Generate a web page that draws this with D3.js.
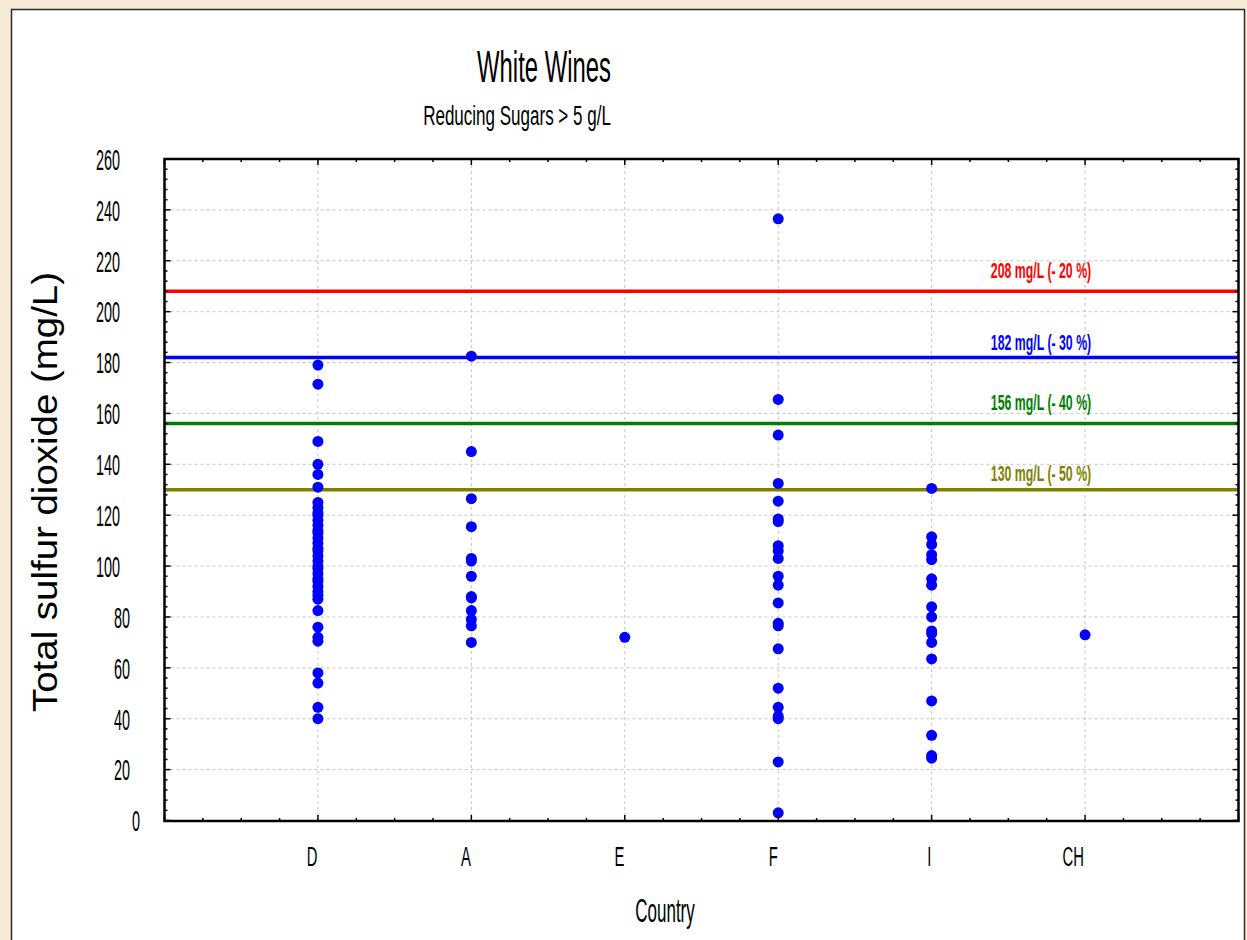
<!DOCTYPE html>
<html><head><meta charset="utf-8">
<script src="https://cdn.jsdelivr.net/npm/d3@7"></script>
<style>
html,body{margin:0;padding:0;background:#F8EBD6;}
svg{display:block;}
</style></head>
<body>
<svg id="chart" width="1247" height="940"></svg>
<script>
// ---------- data ----------
const categories = ["D", "A", "E", "F", "I", "CH"];
const valuesD = [179, 171.5, 149, 140, 136, 131, 125, 123, 121, 120, 118, 116, 114, 113, 111, 109, 107, 106, 104, 102, 100, 99, 97, 95, 94, 92, 90, 88.5, 87, 82.5, 76, 72, 70.5, 58, 54, 44.5, 40];
const valuesA = [182.5, 145, 126.5, 115.5, 103, 102, 96, 88, 87.5, 82.5, 79, 76.5, 70];
const valuesE = [72];
const valuesF = [236.5, 165.5, 151.5, 132.5, 125.5, 118.5, 117.5, 108, 106, 103, 96, 92.5, 85.5, 77.5, 76.5, 67.5, 52, 44.5, 41, 40, 23, 3];
const valuesI = [130.5, 111.5, 108.5, 104.5, 102.5, 95, 92.5, 84, 80, 74.5, 73.5, 70, 63.5, 47, 33.5, 25.5, 24.5];
const valuesCH = [73];
const seriesValues = [valuesD, valuesA, valuesE, valuesF, valuesI, valuesCH];
const yTicks = [0, 20, 40, 60, 80, 100, 120, 140, 160, 180, 200, 220, 240, 260];
const limitValues = [208, 182, 156, 130];
const limitLabels = ["208 mg/L (- 20 %)", "182 mg/L (- 30 %)", "156 mg/L (- 40 %)", "130 mg/L (- 50 %)"];
const limitColors = ["#FF0000", "#0000FF", "#008000", "#808000"];
const limitLabelOffsets = [-13, -7.5, -14, -8.5];
const titleText = "White Wines";
const subtitleText = "Reducing Sugars > 5 g/L";
const xTitle = "Country";
const yTitle = "Total sulfur dioxide (mg/L)";

// ---------- layout ----------
const svg = d3.select("#chart");
const L = 164.5, R = 1238.5, T = 159, B = 821;
const FONT = "'Liberation Sans', Arial, sans-serif";

const x = d3.scaleLinear().domain([0, 7]).range([L, R]);
const y = d3.scaleLinear().domain([0, 260]).range([820.5, T]);

// panel
svg.append("rect").attr("x", 0).attr("y", 0).attr("width", 1247).attr("height", 940).attr("fill", "#F8EBD6");
svg.append("rect").attr("x", 11.5).attr("y", 9.5).attr("width", 1233).attr("height", 950)
  .attr("fill", "#ffffff").attr("stroke", "#2a2a2a").attr("stroke-width", 1.5);

function condense(sel, factor) {
  sel.each(function () {
    const w = this.getComputedTextLength();
    this.setAttribute("textLength", w * factor);
    this.setAttribute("lengthAdjust", "spacingAndGlyphs");
  });
  return sel;
}

// grid
const grid = svg.append("g");
grid.selectAll("line.h").data(yTicks.filter(d => d > 0 && d < 260)).join("line")
  .attr("x1", L).attr("x2", R).attr("y1", d => y(d)).attr("y2", d => y(d))
  .attr("stroke", "#c4c4c4").attr("stroke-width", 1).attr("stroke-dasharray", "3,3");
grid.selectAll("line.v").data(categories).join("line")
  .attr("x1", (d, i) => x(i + 1)).attr("x2", (d, i) => x(i + 1)).attr("y1", T).attr("y2", B)
  .attr("stroke", "#c4c4c4").attr("stroke-width", 1).attr("stroke-dasharray", "3,3");

// limit lines
svg.append("g").selectAll("line").data(limitValues).join("line")
  .attr("x1", L).attr("x2", R).attr("y1", d => y(d)).attr("y2", d => y(d))
  .attr("stroke", (d, i) => limitColors[i]).attr("stroke-width", 3.5);

// points
const pts = [];
seriesValues.forEach((arr, i) => arr.forEach(v => pts.push({ c: i + 1, v })));
svg.append("g").selectAll("circle").data(pts).join("circle")
  .attr("cx", d => x(d.c)).attr("cy", d => y(d.v)).attr("r", 5.5).attr("fill", "#0000FF");

// limit labels
const lbl = svg.append("g").selectAll("text").data(limitLabels).join("text")
  .attr("x", 1041).attr("y", (d, i) => y(limitValues[i]) + limitLabelOffsets[i])
  .attr("text-anchor", "middle").attr("font-family", FONT).attr("font-weight", "bold")
  .attr("font-size", 22).attr("fill", (d, i) => limitColors[i]).text(d => d);
condense(lbl, 0.56);

// frame
svg.append("rect").attr("x", L).attr("y", T).attr("width", R - L).attr("height", B - T)
  .attr("fill", "none").attr("stroke", "#000").attr("stroke-width", 2.5);

// ticks (all four sides, inward)
const ticks = svg.append("g").attr("stroke", "#000").attr("stroke-width", 1.5);
const yMinor = d3.range(0, 261, 4);
yMinor.forEach(v => {
  const len = (v % 20 === 0) ? 6 : 3;
  ticks.append("line").attr("x1", L).attr("x2", L + len).attr("y1", y(v)).attr("y2", y(v));
  ticks.append("line").attr("x1", R).attr("x2", R - len).attr("y1", y(v)).attr("y2", y(v));
});
const xMinor = d3.range(0, 7.001, 0.25);
xMinor.forEach(v => {
  const len = (Math.abs(v - Math.round(v)) < 1e-6) ? 6 : 3;
  ticks.append("line").attr("x1", x(v)).attr("x2", x(v)).attr("y1", B).attr("y2", B - len);
  ticks.append("line").attr("x1", x(v)).attr("x2", x(v)).attr("y1", T).attr("y2", T + len);
});

// y tick labels
svg.append("g").selectAll("text").data(yTicks).join("text")
  .attr("x", d => 140 - (String(d).length - 1) * 10)
  .attr("y", d => y(d)).attr("dy", "0.36em")
  .attr("text-anchor", "end").attr("font-family", FONT).attr("font-size", 30).attr("fill", "#000")
  .attr("textLength", d => String(d).length * 8).attr("lengthAdjust", "spacingAndGlyphs")
  .text(d => d);

// x tick labels
const xl = svg.append("g").selectAll("text").data(categories).join("text")
  .attr("y", 866).attr("font-family", FONT).attr("font-size", 27).attr("fill", "#000")
  .attr("text-anchor", "middle").text(d => d);
xl.each(function (d, i) {
  const w = this.getComputedTextLength() * 0.55;
  this.setAttribute("textLength", w);
  this.setAttribute("lengthAdjust", "spacingAndGlyphs");
  this.setAttribute("x", x(i + 1) - 0.55 * w);
});

// titles
condense(svg.append("text").attr("x", 544).attr("y", 82).attr("text-anchor", "middle")
  .attr("font-family", FONT).attr("font-size", 45).attr("fill", "#000").text(titleText), 0.53);
condense(svg.append("text").attr("x", 517).attr("y", 125).attr("text-anchor", "middle")
  .attr("font-family", FONT).attr("font-size", 27).attr("fill", "#000").text(subtitleText), 0.63);
condense(svg.append("text").attr("x", 665).attr("y", 922).attr("text-anchor", "middle")
  .attr("font-family", FONT).attr("font-size", 34).attr("fill", "#000").text(xTitle), 0.5);
svg.append("text").attr("transform", "translate(57,492) rotate(-90)").attr("text-anchor", "middle")
  .attr("font-family", FONT).attr("font-size", 35).attr("fill", "#000")
  .attr("textLength", 440).attr("lengthAdjust", "spacingAndGlyphs").text(yTitle);
</script>
</body></html>
